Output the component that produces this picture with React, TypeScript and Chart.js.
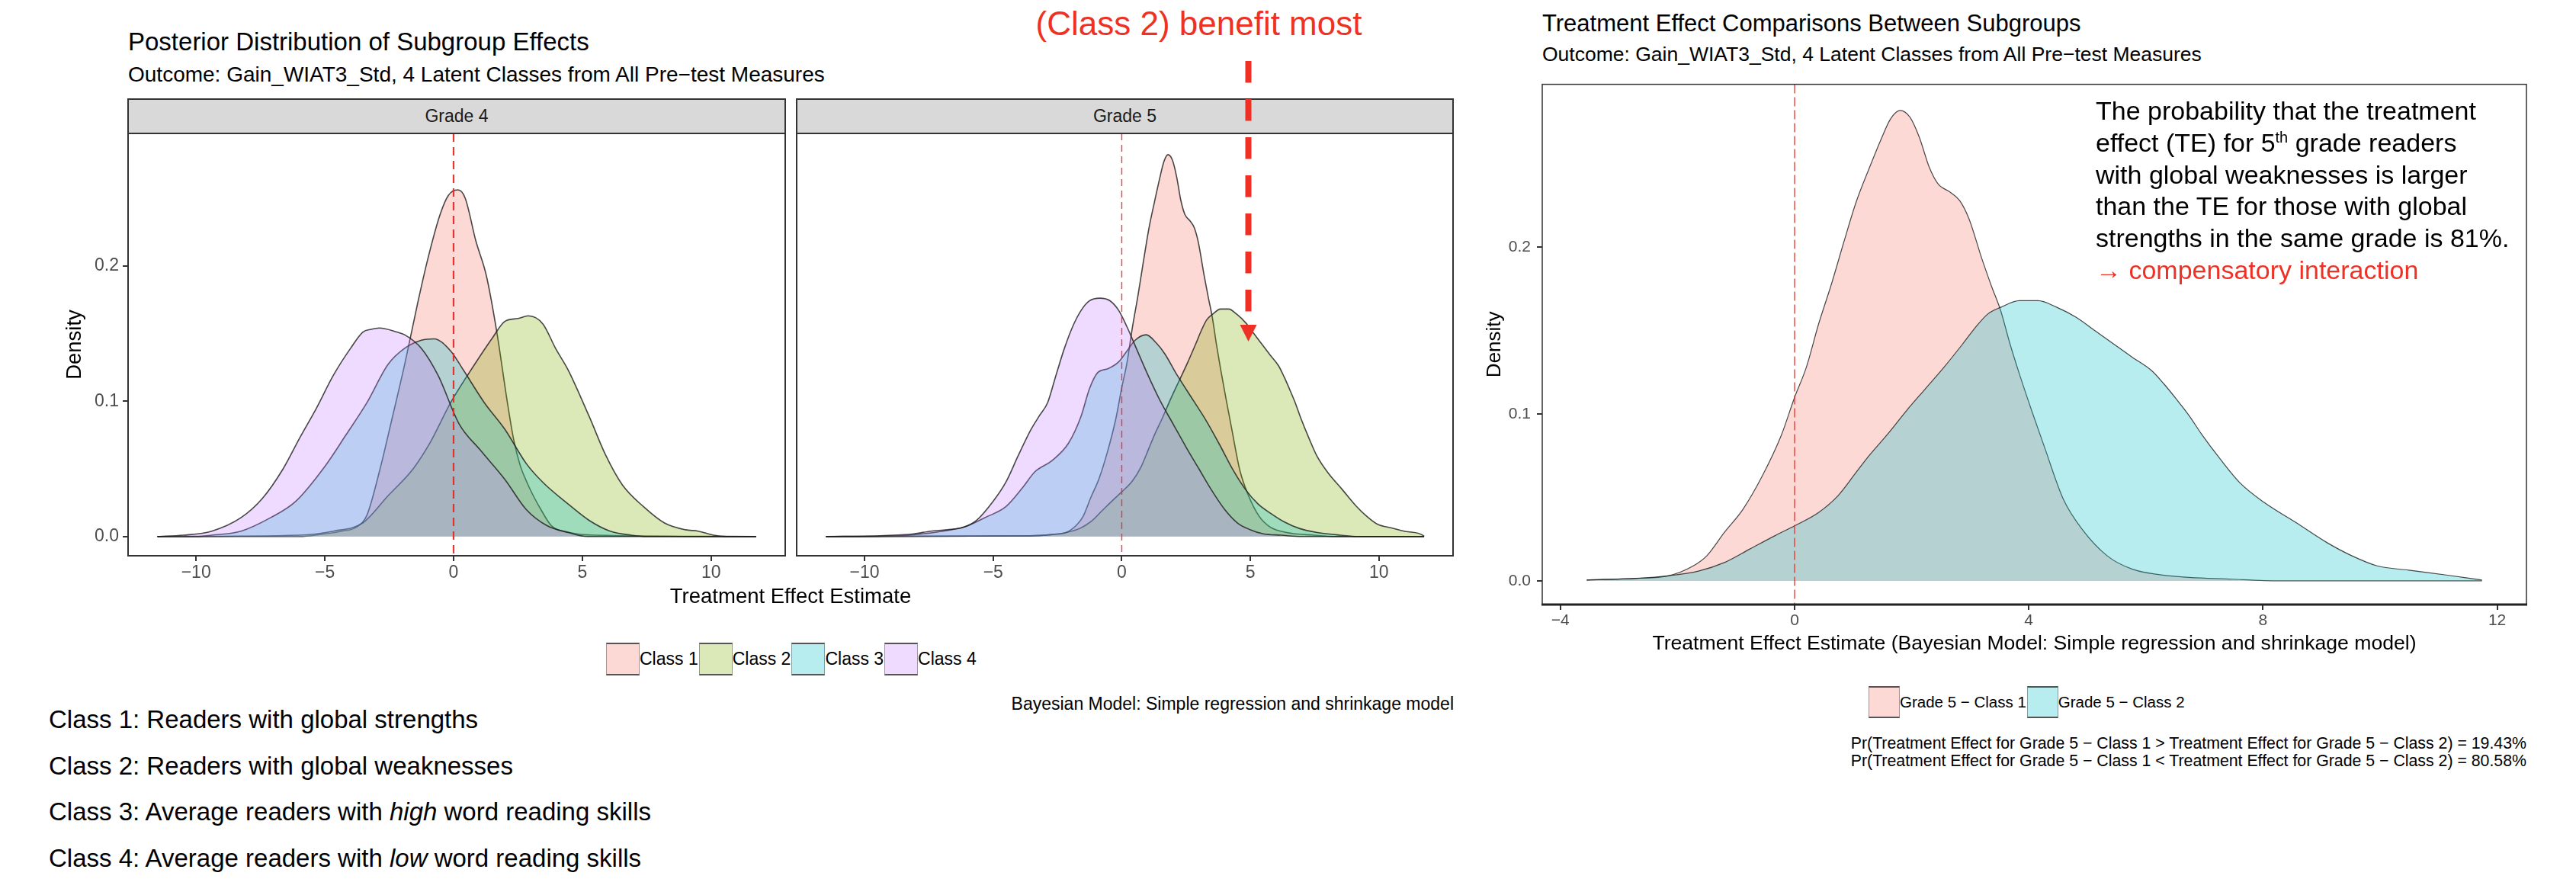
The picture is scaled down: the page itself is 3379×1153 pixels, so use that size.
import React, { useEffect, useRef } from 'react';
import { Chart, registerables } from 'chart.js';

Chart.register(...registerables);

const FONT = '"Liberation Sans", Arial, Helvetica, sans-serif';
const PAGE_W = 3379;
const PAGE_H = 1153;

// ---------------- categories, labels, ticks ----------------
const classLabels = ['Class 1', 'Class 2', 'Class 3', 'Class 4'];
const classColors = ['#F8766D', '#7CAE00', '#00BFC4', '#C77CFF'];
const facetLabels = ['Grade 4', 'Grade 5'];
const compareLabels = ['Grade 5 \u2212 Class 1', 'Grade 5 \u2212 Class 2'];
const compareColors = ['#F8766D', '#00BFC4'];

const leftXTicks = [-10, -5, 0, 5, 10];
const rightXTicks = [-4, 0, 4, 8, 12];
const densityTicks = [0, 0.1, 0.2];
const referenceEffect = 0;

// evaluation ranges of the densities
const leftXRange = [-11.5, 11.75];
const rightXRange = [-3.55, 11.74];

// ---------------- Grade 4 densities ----------------
const grade4Class1X = [-11.5, -6, -5.15, -4.34, -3.77, -3.36, -2.88, -2.39, -1.9, -1.41, -1.0, -0.52, -0.2, 0.17, 0.45, 0.87, 1.27, 1.68, 2.09, 2.33, 2.58, 2.85, 3.1, 3.39, 3.8, 4.5, 5.5, 11.75];
const grade4Class1Y = [0, 0, 0.0016, 0.004, 0.007, 0.016, 0.048, 0.087, 0.127, 0.171, 0.205, 0.238, 0.252, 0.256, 0.25, 0.218, 0.193, 0.151, 0.099, 0.072, 0.053, 0.04, 0.03, 0.02, 0.008, 0.003, 0.001, 0];

const grade4Class2X = [-11.5, -6, -4.67, -3.53, -2.55, -1.57, -0.92, -0.11, 0.54, 1.52, 2.0, 2.5, 2.9, 3.47, 3.96, 4.45, 5.26, 5.91, 6.56, 7.38, 8.19, 9.0, 9.5, 10.1, 10.6, 11.75];
const grade4Class2Y = [0, 0.001, 0.004, 0.01, 0.03, 0.05, 0.069, 0.099, 0.119, 0.147, 0.159, 0.161, 0.163, 0.157, 0.139, 0.123, 0.089, 0.06, 0.038, 0.022, 0.01, 0.005, 0.004, 0.001, 0, 0];

const grade4Class3X = [-11.5, -10, -9.4, -8.25, -7.1, -6.13, -4.99, -4.18, -3.36, -2.55, -1.9, -1.25, -0.76, -0.11, 0.38, 1.19, 2.0, 2.82, 3.47, 4.45, 5.26, 6.08, 6.9, 7.5, 11.75];
const grade4Class3Y = [0, 0, 0.001, 0.004, 0.014, 0.026, 0.052, 0.075, 0.099, 0.127, 0.139, 0.145, 0.146, 0.137, 0.123, 0.099, 0.079, 0.054, 0.04, 0.024, 0.012, 0.004, 0.001, 0, 0];

const grade4Class4X = [-11.5, -10.5, -9.39, -8.25, -7.43, -6.62, -5.97, -5.32, -4.67, -4.0, -3.52, -3.2, -2.88, -2.2, -1.9, -1.25, -0.6, 0.22, 1.03, 2.0, 2.82, 3.63, 4.45, 5.2, 11.75];
const grade4Class4Y = [0, 0.001, 0.004, 0.014, 0.028, 0.05, 0.073, 0.095, 0.119, 0.139, 0.151, 0.153, 0.154, 0.151, 0.149, 0.139, 0.119, 0.083, 0.064, 0.042, 0.02, 0.008, 0.003, 0, 0];

// ---------------- Grade 5 densities ----------------
const grade5Class1X = [-3.55, -2.7, -2.16, -1.73, -1.5, -1.2, -0.88, -0.55, -0.23, 0, 0.2, 0.41, 0.63, 0.84, 1.05, 1.27, 1.48, 1.64, 1.8, 1.97, 2.13, 2.3, 2.45, 2.66, 2.82, 2.98, 3.2, 3.36, 3.52, 3.68, 3.84, 4.06, 4.27, 4.59, 4.91, 5.34, 5.77, 6.41, 7.48, 8.3];
const grade5Class1Y = [0.0005, 0.0015, 0.003, 0.009, 0.015, 0.029, 0.043, 0.063, 0.087, 0.11, 0.128, 0.154, 0.178, 0.203, 0.227, 0.247, 0.265, 0.277, 0.282, 0.278, 0.266, 0.248, 0.238, 0.233, 0.228, 0.217, 0.193, 0.177, 0.162, 0.142, 0.124, 0.101, 0.08, 0.049, 0.031, 0.015, 0.007, 0.003, 0.001, 0];

const grade5Class2X = [-3.55, -2.7, -2.16, -1.63, -1.2, -0.77, -0.34, 0, 0.41, 0.74, 1.05, 1.27, 1.59, 1.91, 2.23, 2.55, 2.87, 3.09, 3.3, 3.52, 3.84, 4.16, 4.48, 4.81, 5.13, 5.45, 5.77, 6.1, 6.31, 6.52, 6.74, 6.95, 7.27, 7.6, 8.02, 8.56, 9.09, 9.52, 9.95, 10.49, 11.13, 11.74];
const grade5Class2Y = [0.0005, 0.0015, 0.003, 0.006, 0.011, 0.019, 0.027, 0.033, 0.041, 0.051, 0.065, 0.075, 0.088, 0.102, 0.115, 0.128, 0.142, 0.152, 0.16, 0.164, 0.168, 0.168, 0.164, 0.158, 0.15, 0.142, 0.134, 0.126, 0.118, 0.109, 0.099, 0.088, 0.073, 0.059, 0.047, 0.035, 0.023, 0.015, 0.009, 0.0064, 0.0035, 0.0005];

const grade5Class3X = [-11.5, -8.56, -7.75, -6.94, -6.13, -5.32, -4.51, -3.86, -3.37, -2.72, -2.07, -1.58, -1.26, -0.94, -0.53, -0.12, 0.2, 0.52, 0.95, 1.34, 1.67, 2.16, 2.8, 3.3, 3.8, 4.3, 4.8, 5.3, 5.8, 6.3, 6.9, 7.6, 8.5, 9.2, 11.75];
const grade5Class3Y = [0, 0.0006, 0.002, 0.004, 0.007, 0.014, 0.022, 0.036, 0.048, 0.056, 0.069, 0.089, 0.109, 0.121, 0.124, 0.129, 0.137, 0.145, 0.149, 0.143, 0.135, 0.119, 0.1, 0.085, 0.068, 0.05, 0.035, 0.024, 0.017, 0.011, 0.006, 0.003, 0.001, 0, 0];

const grade5Class4X = [-11.5, -9.4, -8.08, -7.43, -6.78, -6.13, -5.64, -5.0, -4.51, -4.02, -3.53, -3.21, -2.88, -2.56, -2.23, -1.91, -1.58, -1.26, -0.85, -0.45, -0.12, 0.2, 0.52, 1.0, 1.5, 2.0, 2.5, 3.0, 3.5, 4.0, 4.5, 5.0, 5.5, 6.2, 7.0, 11.75];
const grade5Class4Y = [0, 0.0006, 0.002, 0.004, 0.005, 0.007, 0.012, 0.026, 0.04, 0.06, 0.079, 0.089, 0.099, 0.119, 0.139, 0.155, 0.167, 0.174, 0.176, 0.174, 0.167, 0.155, 0.141, 0.12, 0.1, 0.083, 0.066, 0.05, 0.034, 0.02, 0.01, 0.005, 0.002, 0.001, 0, 0];

// ---------------- helpers ----------------
const toPoints = (xs: number[], ys: number[], range: number[]) => {
  const pts: { x: number; y: number }[] = [];
  if (xs[0] > range[0]) pts.push({ x: range[0], y: 0 });
  for (let i = 0; i < xs.length; i++) {
    if (xs[i] >= range[0] && xs[i] <= range[1]) pts.push({ x: xs[i], y: ys[i] });
  }
  if (xs[xs.length - 1] < range[1]) pts.push({ x: range[1], y: 0 });
  return pts;
};

const rgba = (hex: string, a: number) => {
  const r = parseInt(hex.slice(1, 3), 16);
  const g = parseInt(hex.slice(3, 5), 16);
  const b = parseInt(hex.slice(5, 7), 16);
  return `rgba(${r},${g},${b},${a})`;
};

const fmtX = (v: number) => (v < 0 ? '\u2212' + Math.abs(v) : String(v));
const fmtY = (v: number) => v.toFixed(1);

const densityDataset = (label: string, xs: number[], ys: number[], range: number[], color: string, order: number, lw: number) => ({
  label,
  data: toPoints(xs, ys, range),
  fill: 'origin',
  backgroundColor: rgba(color, 0.28),
  borderColor: 'rgba(28,28,28,0.8)',
  borderWidth: lw,
  pointRadius: 0,
  pointHoverRadius: 0,
  cubicInterpolationMode: 'monotone',
  order,
});

const panelPlugin = (opts: any) => ({
  id: 'panelDecor',
  afterDatasetsDraw(chart: any) {
    const { ctx, chartArea: a, scales } = chart;
    const px = scales.x.getPixelForValue(referenceEffect);
    ctx.save();
    ctx.strokeStyle = opts.vColor;
    ctx.lineWidth = opts.vWidth;
    ctx.setLineDash(opts.vDash);
    ctx.beginPath();
    ctx.moveTo(px, a.top);
    ctx.lineTo(px, a.bottom);
    ctx.stroke();
    ctx.restore();
  },
  afterDraw(chart: any) {
    const { ctx, chartArea: a } = chart;
    ctx.save();
    ctx.strokeStyle = '#333333';
    ctx.lineWidth = opts.borderWidth;
    ctx.strokeRect(a.left, a.top, a.right - a.left, a.bottom - a.top);
    if (opts.bottomWidth) {
      ctx.lineWidth = opts.bottomWidth;
      ctx.strokeStyle = '#222222';
      ctx.beginPath();
      ctx.moveTo(a.left - 1, a.bottom);
      ctx.lineTo(a.right + 1, a.bottom);
      ctx.stroke();
    }
    ctx.restore();
  },
});

const axisX = (limits: number[], ticks: number[], height: number, fontSize: number, title?: any) => ({
  type: 'linear',
  min: limits[0],
  max: limits[1],
  afterBuildTicks: (s: any) => {
    s.ticks = ticks.map((v) => ({ value: v }));
  },
  afterFit: (s: any) => {
    s.height = height;
  },
  grid: { drawOnChartArea: false, drawTicks: true, tickLength: 7, color: '#333333', lineWidth: 2 },
  border: { display: false },
  ticks: {
    autoSkip: false,
    maxRotation: 0,
    padding: 2,
    color: '#4D4D4D',
    font: { family: FONT, size: fontSize },
    callback: (v: any) => fmtX(Number(v)),
  },
  title: title || { display: false },
});

const axisY = (display: boolean, width: number, fontSize: number, padding: number, title?: any) => ({
  type: 'linear',
  display,
  min: -0.0142,
  max: 0.2977,
  afterBuildTicks: (s: any) => {
    s.ticks = densityTicks.map((v) => ({ value: v }));
  },
  afterFit: (s: any) => {
    s.width = width;
  },
  grid: { drawOnChartArea: false, drawTicks: true, tickLength: 7, color: '#333333', lineWidth: 2 },
  border: { display: false },
  ticks: {
    padding,
    color: '#4D4D4D',
    font: { family: FONT, size: fontSize },
    callback: (v: any) => fmtY(Number(v)),
  },
  title: title || { display: false },
});

const baseOptions = (padding: any, scales: any) => ({
  responsive: false,
  maintainAspectRatio: false,
  animation: false,
  devicePixelRatio: 1,
  events: [],
  layout: { padding },
  plugins: { legend: { display: false }, tooltip: { enabled: false }, title: { display: false } },
  scales,
});

const leftXLimits = [-12.64, 12.88];
const rightXLimits = [-4.31, 12.5];

const grade4Config = () => ({
  type: 'line',
  data: {
    datasets: [
      densityDataset(classLabels[0], grade4Class1X, grade4Class1Y, leftXRange, classColors[0], 4, 1.6),
      densityDataset(classLabels[1], grade4Class2X, grade4Class2Y, leftXRange, classColors[1], 3, 1.6),
      densityDataset(classLabels[2], grade4Class3X, grade4Class3Y, leftXRange, classColors[2], 2, 1.6),
      densityDataset(classLabels[3], grade4Class4X, grade4Class4Y, leftXRange, classColors[3], 1, 1.6),
    ],
  },
  options: baseOptions(
    { left: 0, top: 55, right: 4, bottom: 0 },
    {
      x: axisX(leftXLimits, leftXTicks, 45, 23),
      y: axisY(true, 108, 23, 5, {
        display: true,
        text: 'Density',
        color: '#000000',
        font: { family: FONT, size: 27.5 },
        padding: { top: 21.5, bottom: 0 },
      }),
    }
  ),
  plugins: [panelPlugin({ vColor: 'rgba(238,40,36,0.95)', vWidth: 2.2, vDash: [11, 7], borderWidth: 2 })],
});

const grade5Config = () => ({
  type: 'line',
  data: {
    datasets: [
      densityDataset(classLabels[0], grade5Class1X, grade5Class1Y, leftXRange, classColors[0], 4, 1.6),
      densityDataset(classLabels[1], grade5Class2X, grade5Class2Y, leftXRange, classColors[1], 3, 1.6),
      densityDataset(classLabels[2], grade5Class3X, grade5Class3Y, leftXRange, classColors[2], 2, 1.6),
      densityDataset(classLabels[3], grade5Class4X, grade5Class4Y, leftXRange, classColors[3], 1, 1.6),
    ],
  },
  options: baseOptions(
    { left: 4, top: 55, right: 4, bottom: 0 },
    {
      x: axisX(leftXLimits, leftXTicks, 45, 23),
      y: axisY(false, 0, 23, 5),
    }
  ),
  plugins: [panelPlugin({ vColor: 'rgba(238,40,36,0.9)', vWidth: 1.4, vDash: [9, 6], borderWidth: 2 })],
});

const compareConfig = () => ({
  type: 'line',
  data: {
    datasets: [
      densityDataset(compareLabels[0], grade5Class1X, grade5Class1Y, rightXRange, compareColors[0], 2, 1.2),
      densityDataset(compareLabels[1], grade5Class2X, grade5Class2Y, rightXRange, compareColors[1], 1, 1.2),
    ],
  },
  options: baseOptions(
    { left: 0, top: 9, right: 6, bottom: 0 },
    {
      x: axisX(rightXLimits, rightXTicks, 70, 21, {
        display: true,
        text: 'Treatment Effect Estimate (Bayesian Model: Simple regression and shrinkage model)',
        color: '#000000',
        font: { family: FONT, size: 26.6 },
        padding: { top: 0, bottom: 2.4 },
      }),
      y: axisY(true, 103, 21, 8, {
        display: true,
        text: 'Density',
        color: '#000000',
        font: { family: FONT, size: 26 },
        padding: { top: 25.4, bottom: 0 },
      }),
    }
  ),
  plugins: [panelPlugin({ vColor: 'rgba(238,40,36,0.9)', vWidth: 1.4, vDash: [12, 5], borderWidth: 1.5, bottomWidth: 3 })],
});

function ChartCanvas({ x, y, w, h, config }: any) {
  const ref = useRef<HTMLCanvasElement>(null);
  useEffect(() => {
    const chart = new Chart(ref.current as HTMLCanvasElement, config() as any);
    return () => chart.destroy();
  }, []);
  return (
    <canvas
      ref={ref}
      width={w}
      height={h}
      style={{ position: 'absolute', left: x, top: y, width: w, height: h }}
    />
  );
}

// Text placed by its baseline
function Txt({ x, base, size, align = 'left', color = '#000000', children, style }: any) {
  const s: any = {
    position: 'absolute',
    top: base - 0.8465 * size,
    fontSize: size,
    lineHeight: size + 'px',
    fontFamily: FONT,
    color,
    whiteSpace: 'nowrap',
    ...style,
  };
  if (align === 'left') s.left = x;
  else if (align === 'right') s.right = PAGE_W - x;
  else {
    s.left = x;
    s.transform = 'translateX(-50%)';
  }
  return <div style={s}>{children}</div>;
}

function Strip({ x, w, label }: any) {
  return (
    <div
      style={{
        position: 'absolute',
        left: x - 1,
        top: 129,
        width: w + 2,
        height: 47,
        boxSizing: 'border-box',
        background: '#D9D9D9',
        border: '2px solid #333333',
        textAlign: 'center',
        fontFamily: FONT,
        fontSize: 23,
        lineHeight: '42px',
        color: '#1A1A1A',
      }}
    >
      {label}
    </div>
  );
}

function LegendRow({ x, top, boxW, boxH, fontSize, labels, colors }: any) {
  return (
    <div style={{ position: 'absolute', left: x, top, display: 'flex', alignItems: 'center' }}>
      {labels.map((lab: string, i: number) => (
        <div key={lab} style={{ display: 'flex', alignItems: 'center', marginRight: 1 }}>
          <div
            style={{
              width: boxW,
              height: boxH,
              boxSizing: 'border-box',
              background: rgba(colors[i], 0.28),
              borderTop: '2px solid rgba(60,60,60,0.85)',
              borderBottom: '2px solid rgba(60,60,60,0.85)',
              borderLeft: '1px solid rgba(60,60,60,0.45)',
              borderRight: '1px solid rgba(60,60,60,0.45)',
            }}
          />
          <div style={{ fontFamily: FONT, fontSize, lineHeight: boxH + 'px', color: '#000', whiteSpace: 'nowrap' }}>{lab}</div>
        </div>
      ))}
    </div>
  );
}

export default function App() {
  const RED = '#EE3124';
  const annBase = 157;
  const annStep = 41.7;
  const classBase = 955;
  const classStep = 60.7;
  return (
    <div style={{ position: 'absolute', left: 0, top: 0, width: PAGE_W, height: PAGE_H, background: '#ffffff', overflow: 'hidden' }}>
      {/* ---------- left figure ---------- */}
      <Txt x={168} base={65.5} size={33}>Posterior Distribution of Subgroup Effects</Txt>
      <Txt x={168} base={107.5} size={28}>Outcome: Gain_WIAT3_Std, 4 Latent Classes from All Pre{'\u2212'}test Measures</Txt>

      <ChartCanvas x={60} y={120} w={974} h={654} config={grade4Config} />
      <ChartCanvas x={1041} y={120} w={869} h={654} config={grade5Config} />
      <Strip x={168} w={862} label={facetLabels[0]} />
      <Strip x={1045} w={861} label={facetLabels[1]} />

      <Txt x={1037} base={791} size={27.5} align="center">Treatment Effect Estimate</Txt>

      <LegendRow x={795} top={843} boxW={44} boxH={43} fontSize={23} labels={classLabels} colors={classColors} />

      <Txt x={1907} base={931} size={23} align="right">Bayesian Model: Simple regression and shrinkage model</Txt>

      <Txt x={64} base={classBase} size={33}>Class 1: Readers with global strengths</Txt>
      <Txt x={64} base={classBase + classStep} size={33}>Class 2: Readers with global weaknesses</Txt>
      <Txt x={64} base={classBase + classStep * 2} size={33}>
        Class 3: Average readers with <i>high</i> word reading skills
      </Txt>
      <Txt x={64} base={classBase + classStep * 3} size={33}>
        Class 4: Average readers with <i>low</i> word reading skills
      </Txt>

      <Txt x={1572.5} base={46.7} size={44} align="center" color={RED}>(Class 2) benefit most</Txt>

      {/* ---------- right figure ---------- */}
      <Txt x={2023} base={41.7} size={31}>Treatment Effect Comparisons Between Subgroups</Txt>
      <Txt x={2023} base={80} size={26.5}>Outcome: Gain_WIAT3_Std, 4 Latent Classes from All Pre{'\u2212'}test Measures</Txt>

      <ChartCanvas x={1920} y={90} w={1400} h={773} config={compareConfig} />

      <Txt x={2749} base={annBase} size={34}>The probability that the treatment</Txt>
      <Txt x={2749} base={annBase + annStep} size={34}>
        effect (TE) for 5
        <span style={{ fontSize: 20, position: 'relative', top: -12 }}>th</span> grade readers
      </Txt>
      <Txt x={2749} base={annBase + annStep * 2} size={34}>with global weaknesses is larger</Txt>
      <Txt x={2749} base={annBase + annStep * 3} size={34}>than the TE for those with global</Txt>
      <Txt x={2749} base={annBase + annStep * 4} size={34}>strengths in the same grade is 81%.</Txt>
      <Txt x={2749} base={annBase + annStep * 5} size={34} color={RED}>{'\u2192'} compensatory interaction</Txt>

      <LegendRow x={2451} top={900} boxW={41} boxH={42} fontSize={20.5} labels={compareLabels} colors={compareColors} />

      <Txt x={3314} base={983.3} size={21.3} align="right">
        Pr(Treatment Effect for Grade 5 {'\u2212'} Class 1 &gt; Treatment Effect for Grade 5 {'\u2212'} Class 2) = 19.43%
      </Txt>
      <Txt x={3314} base={1005.7} size={21.3} align="right">
        Pr(Treatment Effect for Grade 5 {'\u2212'} Class 1 &lt; Treatment Effect for Grade 5 {'\u2212'} Class 2) = 80.58%
      </Txt>

      {/* ---------- red arrow annotation ---------- */}
      <svg width={PAGE_W} height={PAGE_H} style={{ position: 'absolute', left: 0, top: 0, pointerEvents: 'none' }}>
        <line x1={1637.5} y1={80} x2={1637.5} y2={411} stroke={RED} strokeWidth={8} strokeDasharray="28.5 21.5" />
        <polygon points="1626.5,426 1648.5,426 1637.5,448" fill={RED} />
      </svg>
    </div>
  );
}
